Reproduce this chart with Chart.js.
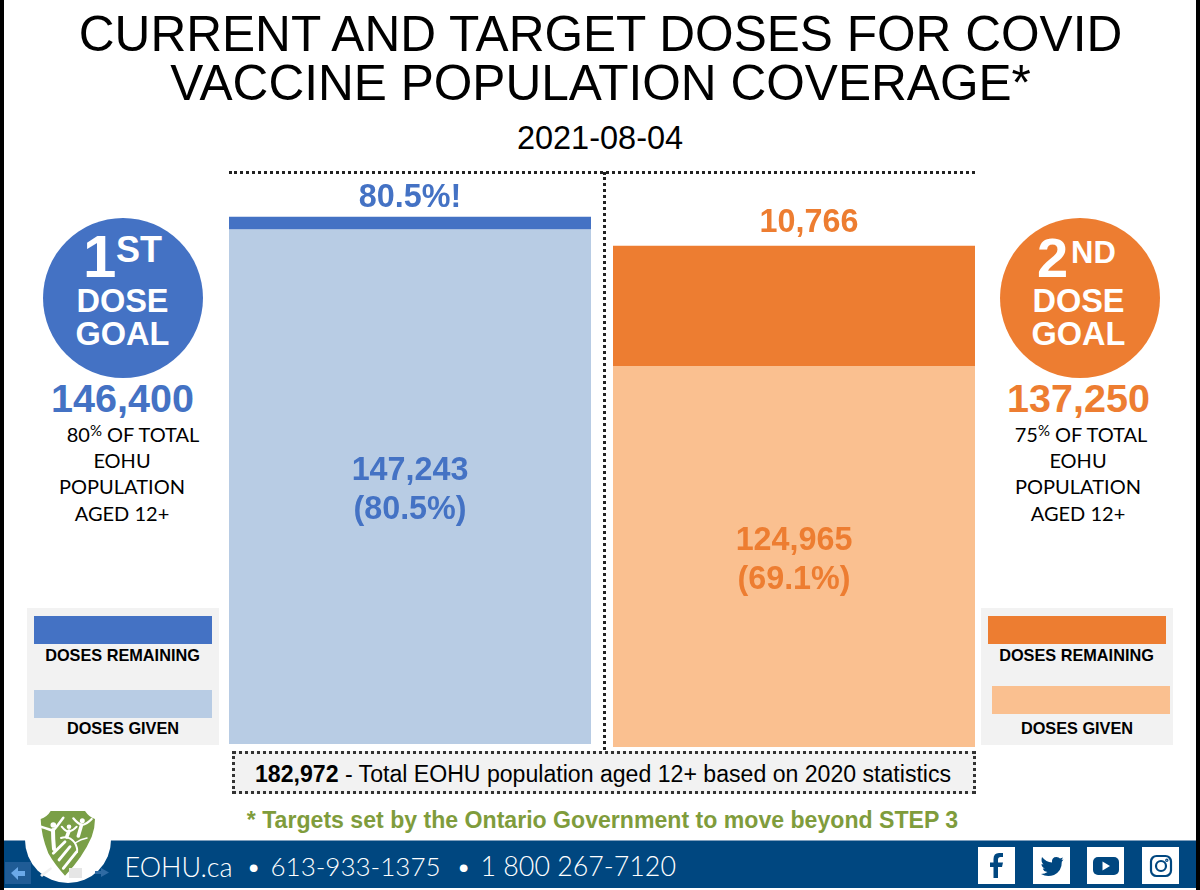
<!DOCTYPE html>
<html>
<head>
<meta charset="utf-8">
<title>Current and target doses</title>
<script src="https://cdn.jsdelivr.net/npm/chart.js@4"></script>
<style>
  html, body { margin: 0; padding: 0; background: #fff; }
  #page { position: relative; width: 1200px; height: 890px; overflow: hidden; font-family: "Liberation Sans", Arial, sans-serif; color: #000; }
  #page > * { position: absolute; }
  canvas { display: block; }
  .edge { background: #000; top: 0; bottom: 0; width: 4px; }
  .title { left: 0; width: 1201px; text-align: center; font-size: 49.6px; line-height: 53px; white-space: nowrap; }
  .date { left: 0; width: 1200px; top: 120px; text-align: center; font-size: 32.5px; line-height: 36px; }
  .badge { width: 160px; height: 160px; border-radius: 50%; top: 218px; color: #fff; font-weight: bold; }
  .badge span { position: absolute; white-space: nowrap; }
  .word { font-size: 32.5px; line-height: 35px; width: 160px; text-align: center; }
  .goal { font-size: 39.500px; line-height: 44px; font-weight: bold; width: 200px; text-align: center; top: 376px; }
  .note { font-family: Lato, sans-serif; font-size: 20px; line-height: 26.4px; text-align: center; width: 200px; top: 420.5px; }
  .note sup { font-size: 15px; line-height: 0; vertical-align: 6px; }
  .panel { background: #f2f2f2; top: 608px; width: 192px; height: 137px; }
  .swatch { width: 178px; height: 28px; }
  .legend { font-size: 16.300px; font-weight: bold; line-height: 18px; width: 192px; text-align: center; }
  .hline { left: 229px; top: 170.5px; width: 746px; border-top: 3px dotted #222; }
  .vline { left: 602.5px; top: 172px; height: 578px; border-left: 3px dotted #222; }
  .total { left: 232px; top: 751px; width: 738px; height: 37px; background: #f2f2f2; border: 3px dotted #333; font-size: 23.100px; line-height: 41px; white-space: nowrap; }
  .total span { position: absolute; left: 20px; }
  .target { left: 0; width: 1205px; top: 805.5px; text-align: center; font-size: 23.100px; line-height: 28px; font-weight: bold; color: #7f9c3c; white-space: nowrap; }
  .band { left: 4px; width: 1192px; top: 840px; height: 48px; background: #004780; border-top: 1px solid #7f9fbd; box-sizing: border-box; }
  .contact { top: 850px; color: #fff; font-family: Lato, sans-serif; font-weight: 300; font-size: 26.300px; line-height: 33px; white-space: pre; }
  .icon { top: 847px; width: 37px; height: 37px; background: #fff; }
  .barlabel { transform: translate(-50%, -50%); font-weight: bold; font-size: 32.300px; line-height: 39px; text-align: center; white-space: nowrap; }
</style>
</head>
<body>
<div id="page">
  <div class="edge" style="left:0"></div>
  <div class="edge" style="right:0"></div>

  <div class="title" style="top:8px">CURRENT AND TARGET DOSES FOR COVID</div>
  <div class="title" style="top:57px">VACCINE POPULATION COVERAGE*</div>
  <div class="date">2021-08-04</div>

  <div class="badge" style="left:43px;background:#4472c4">
    <span style="left:40px;top:8.500px;font-size:60px;line-height:60px">1</span>
    <span style="left:73px;top:14px;font-size:36px;line-height:36px">ST</span>
    <span class="word" style="left:-0.500px;top:66px">DOSE</span>
    <span class="word" style="left:-0.500px;top:99px">GOAL</span>
  </div>
  <div class="goal" style="left:22.500px;color:#4472c4">146,400</div>
  <div class="note" style="left:22px"><span style="position:relative;left:11px">80<sup>%</sup> OF TOTAL</span><br>EOHU<br>POPULATION<br>AGED 12+</div>

  <div class="badge" style="left:1000px;background:#ed7d31">
    <span style="left:37px;top:12px;font-size:56px;line-height:56px">2</span>
    <span style="left:71px;top:19px;font-size:31px;line-height:31px">ND</span>
    <span class="word" style="left:-1.500px;top:66px">DOSE</span>
    <span class="word" style="left:-1.500px;top:99px">GOAL</span>
  </div>
  <div class="goal" style="left:978.500px;color:#ed7d31">137,250</div>
  <div class="note" style="left:978px"><span style="position:relative;left:3px">75<sup>%</sup> OF TOTAL</span><br>EOHU<br>POPULATION<br>AGED 12+</div>

  <div class="panel" style="left:27px"></div>
  <div class="swatch" style="left:34px;top:616px;background:#4472c4"></div>
  <div class="legend" style="left:26.500px;top:646px">DOSES REMAINING</div>
  <div class="swatch" style="left:34px;top:690px;background:#b8cce4"></div>
  <div class="legend" style="left:27px;top:719px">DOSES GIVEN</div>

  <div class="panel" style="left:981px"></div>
  <div class="swatch" style="left:988px;top:616px;background:#ed7d31"></div>
  <div class="legend" style="left:980.500px;top:646px">DOSES REMAINING</div>
  <div class="swatch" style="left:992px;top:686px;background:#fac090"></div>
  <div class="legend" style="left:981px;top:719px">DOSES GIVEN</div>

  <canvas id="firstDoseChart" width="362" height="572" style="left:229px;top:172px"></canvas>
  <canvas id="secondDoseChart" width="362" height="575" style="left:613px;top:172px"></canvas>

  <div class="hline"></div>
  <div class="vline"></div>

  <div class="total"><span><b>182,972</b> - Total EOHU population aged 12+ based on 2020 statistics</span></div>
  <div class="target">* Targets set by the Ontario Government to move beyond STEP 3</div>

  <div class="band"></div>
  <svg style="left:4px;top:862px" width="34" height="24" viewBox="0 0 34 24">
    <rect x="1" y="0" width="26" height="22" fill="#1f5c96"/>
    <path d="M7 11 L14 5 V9 H21 V14 H14 V18 Z" fill="#6aa9e8"/>
  </svg>
  <!-- logo -->
  <svg style="left:25px;top:797px" width="86" height="86" viewBox="0 0 86 86">
    <circle cx="43" cy="43" r="43" fill="#fff"/>
    <path d="M15.700 22 Q22 20 25.700 14 H60 Q64 20 70 22 Q70 31 66.700 39.700 Q58 60 40 78.700 Q30 68 23.300 56.300 Q16 38 15.700 22 Z" fill="#7a9f47"/>
    <g fill="none" stroke="#fff" stroke-linecap="round">
      <path d="M15.700 29.700 Q24 32 28 34 Q33 28 38.300 20.700" stroke-width="2.500"/>
      <path d="M28 33 Q28 42 29 52" stroke-width="4"/>
      <path d="M36.700 29.700 Q41 35 44 34.500 Q48 34 51.700 29.700" stroke-width="2"/>
      <path d="M44 34 L41.700 40" stroke-width="3.500"/>
      <path d="M48.300 21.300 Q53 27 57 28 Q62 27 66.700 22" stroke-width="2.200"/>
      <path d="M56.500 28 L53.300 39" stroke-width="3.500"/>
      <path d="M28.300 56.300 L40 44.700" stroke-width="2.800"/>
      <path d="M34 63 L45 49.700" stroke-width="2.800"/>
      <path d="M38.300 71.300 L51.700 54.700" stroke-width="2.800"/>
      <path d="M36 41 Q44 38 50 46 Q53 52 52 55" stroke-width="2"/>
      <path d="M50 46 Q56 42 62 41" stroke-width="1.500"/>
    </g>
    <g fill="#fff">
      <circle cx="28.300" cy="28" r="2.800"/>
      <circle cx="44" cy="29.700" r="2.300"/>
      <circle cx="57.300" cy="23.700" r="2.500"/>
    </g>
    <path d="M15 78 L26 70 L27 72 L17 80 Z" fill="#f1f1f1"/>
    <rect x="44" y="71" width="13" height="10" fill="#e6e6e6"/>
    <path d="M70 74 H76 V71 L84 75.500 L76 80 V77 H70 Z" fill="#2f6ba3"/>
  </svg>
  <div class="contact" style="left:124.500px;font-size:27px">EOHU.ca</div>
  <div class="contact" style="left:246px">•</div>
  <div class="contact" style="left:270.500px;font-size:26px">613-933-1375</div>
  <div class="contact" style="left:456px">•</div>
  <div class="contact" style="left:480.500px;font-size:26.800px">1 800 267-7120</div>

  <div class="icon" style="left:978px"></div>
  <svg style="left:978px;top:847px" width="37" height="37" viewBox="0 0 37 37">
    <path d="M20 31 V20 H24 L25 15.500 H20 V12.500 Q20 10 22.500 10 H25 V6 H21 Q15.500 6 15.500 12 V15.500 H12 V20 H15.500 V31 Z" fill="#004780"/>
  </svg>
  <div class="icon" style="left:1033px"></div>
  <svg style="left:1033px;top:847px" width="37" height="37" viewBox="0 0 37 37">
    <path d="M9 10 Q13 15 19 15.500 Q18.500 10 23.500 10 Q26 10 27 11.500 L30 10.500 L28.500 13 L30.500 12.500 L28.800 14.800 Q29 24 21 28 Q14 30.500 8 27 Q12 27 14.500 25 Q10.500 24.500 9.800 21.500 L12 21.500 Q8.500 20 8.500 17 L10.500 17.500 Q7.500 14.500 9 10 Z" fill="#004780"/>
  </svg>
  <div class="icon" style="left:1087px"></div>
  <svg style="left:1087px;top:847px" width="37" height="37" viewBox="0 0 37 37">
    <rect x="6" y="10" width="26" height="18" rx="5" fill="#004780"/>
    <path d="M15.500 14.500 L23 19 L15.500 23.500 Z" fill="#fff"/>
  </svg>
  <div class="icon" style="left:1142px"></div>
  <svg style="left:1142px;top:847px" width="37" height="37" viewBox="0 0 37 37" fill="none" stroke="#004780" stroke-width="2.200">
    <rect x="9" y="9" width="20" height="20" rx="5.500"/>
    <circle cx="19" cy="19" r="5"/>
    <circle cx="24.800" cy="13.200" r="0.600"/>
  </svg>
</div>

<script>
// first dose panel
const firstGiven = [147243];
const firstRemaining = [3520];   // height of the thin strip, the bar shows no real remainder
const firstAxisMax = 163700;

// second dose panel
const secondGiven = [124965];
const secondRemaining = [39410]; // reference does not draw 10,766 to scale
const secondAxisMax = 188700;

const categories = ['Doses'];
const firstLabels = ['80.5%!', '147,243', '(80.5%)'];
const secondLabels = ['10,766', '124,965', '(69.1%)'];

function makeDoseChart(id, given, remaining, axisMax, colorGiven, colorRemaining) {
  return new Chart(document.getElementById(id), {
    type: 'bar',
    data: {
      labels: categories,
      datasets: [
        { label: 'Doses given', data: given, backgroundColor: colorGiven },
        { label: 'Doses remaining', data: remaining, backgroundColor: colorRemaining }
      ]
    },
    options: {
      responsive: false,
      animation: false,
      layout: { padding: 0 },
      barPercentage: 1,
      categoryPercentage: 1,
      plugins: { legend: { display: false }, tooltip: { enabled: false } },
      scales: {
        x: { stacked: true, display: false },
        y: { stacked: true, display: false, min: 0, max: axisMax }
      }
    }
  });
}

// put the value labels on the bars, using where the chart actually drew them
function addBarLabels(chart, labels, color, gapAbove, topShift) {
  const page = document.getElementById('page');
  const canvas = chart.canvas;
  const givenBar = chart.getDatasetMeta(0).data[0];
  const topBar = chart.getDatasetMeta(1).data[0];
  const x = canvas.offsetLeft + givenBar.x;

  const top = document.createElement('div');
  top.className = 'barlabel';
  top.style.left = (x + topShift) + 'px';
  top.style.top = (canvas.offsetTop + topBar.y - gapAbove) + 'px';
  top.style.color = color;
  top.textContent = labels[0];
  page.appendChild(top);

  const mid = document.createElement('div');
  mid.className = 'barlabel';
  mid.style.left = x + 'px';
  mid.style.top = (canvas.offsetTop + (givenBar.y + givenBar.base) / 2 + 2) + 'px';
  mid.style.color = color;
  mid.innerHTML = labels[1] + '<br>' + labels[2];
  page.appendChild(mid);
}

const firstChart = makeDoseChart('firstDoseChart', firstGiven, firstRemaining, firstAxisMax, '#b8cce4', '#4472c4');
const secondChart = makeDoseChart('secondDoseChart', secondGiven, secondRemaining, secondAxisMax, '#fac090', '#ed7d31');
addBarLabels(firstChart, firstLabels, '#4472c4', 21, 0);
addBarLabels(secondChart, secondLabels, '#ed7d31', 25, 15);
</script>
</body>
</html>
